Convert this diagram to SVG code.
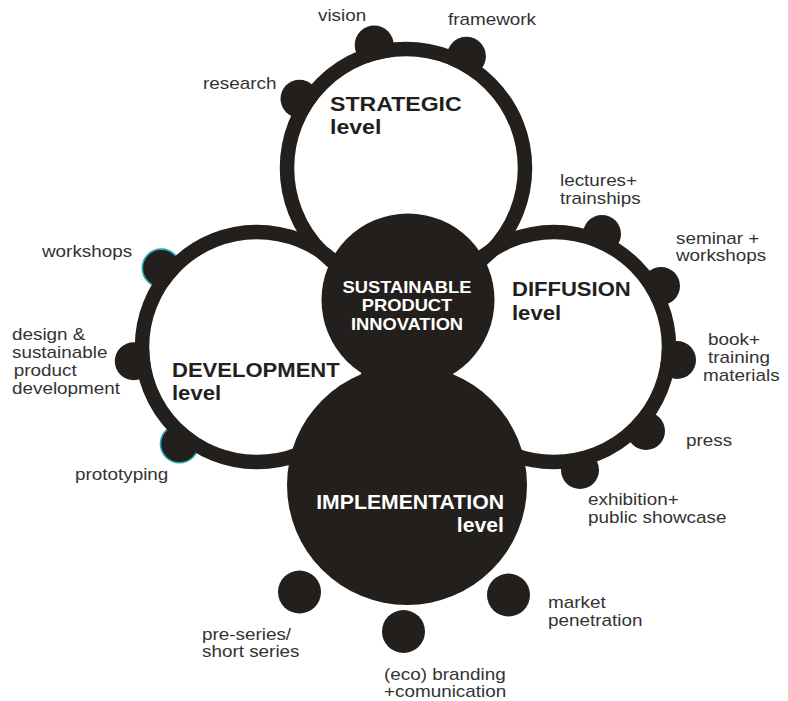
<svg xmlns="http://www.w3.org/2000/svg" width="788" height="701" viewBox="0 0 788 701">
<style>
.ring{fill:none;stroke:#231f1c;stroke-width:14.5}
.bump{fill:#231f1c}
.cyan{stroke:#2aaab8;stroke-width:1.6}
.disc{fill:#231f1c}
.lbl{font-family:"Liberation Sans",Arial,sans-serif;font-size:16px;fill:#333333}
.ttl{font-family:"Liberation Sans",Arial,sans-serif;font-size:21px;font-weight:bold;fill:#231f1c}
.wt{font-family:"Liberation Sans",Arial,sans-serif;font-weight:bold;fill:#ffffff}
</style>
<defs>
<mask id="mS" maskUnits="userSpaceOnUse" x="0" y="0" width="788" height="701"><rect width="788" height="701" fill="#fff"/><circle cx="406" cy="168" r="112" fill="#000"/></mask>
<mask id="mD" maskUnits="userSpaceOnUse" x="0" y="0" width="788" height="701"><rect width="788" height="701" fill="#fff"/><circle cx="257" cy="347" r="108" fill="#000"/></mask>
<mask id="mF" maskUnits="userSpaceOnUse" x="0" y="0" width="788" height="701"><rect width="788" height="701" fill="#fff"/><circle cx="554" cy="347" r="108" fill="#000"/></mask>
</defs>
<rect width="788" height="701" fill="#ffffff"/>
<g id="connectors"/>
<g id="strategic">
<g mask="url(#mS)">
<circle class="bump" cx="299.5" cy="98.8" r="19"/>
<circle class="bump" cx="374.2" cy="45" r="19.5"/>
<circle class="bump" cx="466.4" cy="56.3" r="19.5"/>
</g>
<circle class="ring" cx="406" cy="168" r="119"/>
<text class="ttl" transform="translate(330,110.5) scale(1.1,1)"><tspan x="0" y="0">STRATEGIC</tspan><tspan x="0" y="24">level</tspan></text>
<text class="lbl" transform="translate(318,21) scale(1.18,1)">vision</text>
<text class="lbl" transform="translate(448,25) scale(1.18,1)">framework</text>
<text class="lbl" transform="translate(203,89) scale(1.18,1)">research</text>
</g>
<g id="development">
<g mask="url(#mD)">
<circle class="bump cyan" cx="161.3" cy="268.1" r="19"/>
<circle class="bump" cx="133.8" cy="361.2" r="19"/>
<circle class="bump cyan" cx="179.5" cy="443.8" r="19"/>
</g>
<circle class="ring" cx="257" cy="347" r="115"/>
<text class="ttl" transform="translate(172,376.5) scale(1.05,1)"><tspan x="0" y="0">DEVELOPMENT</tspan><tspan x="0" y="24">level</tspan></text>
<text class="lbl" transform="translate(42,257) scale(1.18,1)">workshops</text>
<text class="lbl" transform="translate(12,340) scale(1.18,1)"><tspan x="0" y="0">design &amp;</tspan><tspan x="0" y="18">sustainable</tspan><tspan x="1.5" y="36">product</tspan><tspan x="0" y="54">development</tspan></text>
<text class="lbl" transform="translate(75,480) scale(1.18,1)">prototyping</text>
</g>
<g id="diffusion">
<g mask="url(#mF)">
<circle class="bump" cx="602" cy="234" r="19"/>
<circle class="bump" cx="661" cy="286" r="19"/>
<circle class="bump" cx="677" cy="360" r="19"/>
<circle class="bump" cx="646" cy="431" r="19"/>
<circle class="bump" cx="580" cy="470" r="19"/>
</g>
<circle class="ring" cx="554" cy="347" r="115"/>
<text class="ttl" transform="translate(512,296) scale(1.05,1)"><tspan x="0" y="0">DIFFUSION</tspan><tspan x="0" y="24">level</tspan></text>
<text class="lbl" transform="translate(560,186) scale(1.18,1)"><tspan x="0" y="0">lectures+</tspan><tspan x="0" y="18">trainships</tspan></text>
<text class="lbl" transform="translate(676,243.5) scale(1.18,1)"><tspan x="0" y="0">seminar +</tspan><tspan x="0" y="18">workshops</tspan></text>
<text class="lbl" transform="translate(708,345) scale(1.18,1)"><tspan x="0" y="0">book+</tspan><tspan x="0" y="18">training</tspan><tspan x="-4.2" y="36">materials</tspan></text>
<text class="lbl" transform="translate(686,446) scale(1.18,1)">press</text>
<text class="lbl" transform="translate(588,505) scale(1.18,1)"><tspan x="0" y="0">exhibition+</tspan><tspan x="0" y="18">public showcase</tspan></text>
</g>
<g id="implementation">
<circle class="disc" cx="407" cy="485" r="120"/>
<text class="wt" font-size="20.5" text-anchor="end" transform="translate(504,509) scale(1.035,1)"><tspan x="0" y="0">IMPLEMENTATION</tspan><tspan x="0" y="23">level</tspan></text>
</g>
<g id="center">
<circle class="disc" cx="408" cy="300" r="86.5"/>
<text class="wt" font-size="16.8" text-anchor="middle" transform="translate(407,292.5) scale(1.09,1)"><tspan x="0" y="0">SUSTAINABLE</tspan><tspan x="0" y="19">PRODUCT</tspan><tspan x="0" y="38">INNOVATION</tspan></text>
</g>
<g id="pre-series">
<circle class="disc" cx="299.5" cy="592" r="21.5"/>
<text class="lbl" transform="translate(202,639.5) scale(1.18,1)"><tspan x="0" y="0">pre-series/</tspan><tspan x="0" y="18">short series</tspan></text>
</g>
<g id="branding">
<circle class="disc" cx="403.5" cy="631.5" r="21.5"/>
<text class="lbl" transform="translate(384,679.5) scale(1.18,1)"><tspan x="0" y="0">(eco) branding</tspan><tspan x="0" y="18">+comunication</tspan></text>
</g>
<g id="market">
<circle class="disc" cx="508.5" cy="595" r="21.5"/>
<text class="lbl" transform="translate(548,608) scale(1.18,1)"><tspan x="0" y="0">market</tspan><tspan x="0" y="18">penetration</tspan></text>
</g>
</svg>
